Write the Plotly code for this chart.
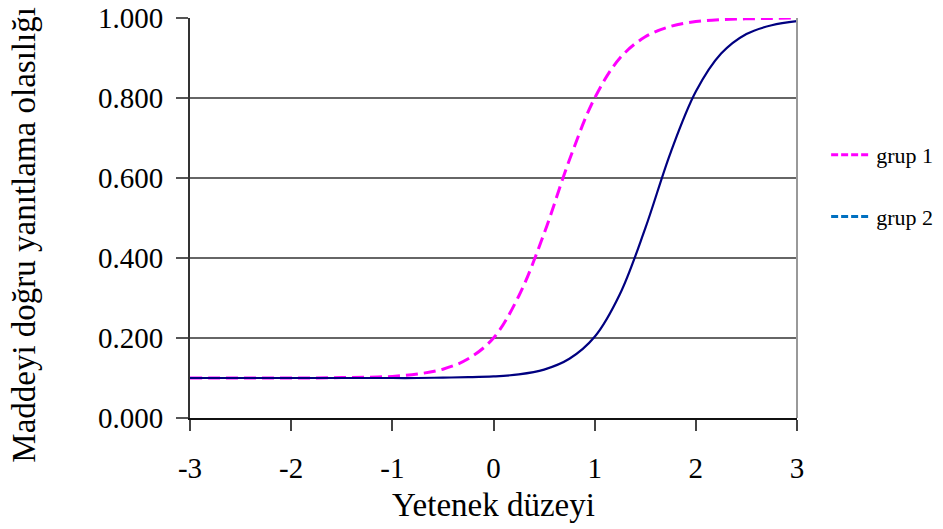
import plotly.graph_objects as go

theta = [-3.0, -2.75, -2.5, -2.25, -2.0, -1.75, -1.5, -1.25, -1.0, -0.75, -0.5, -0.25,
         0.0, 0.25, 0.5, 0.75, 1.0, 1.25, 1.5, 1.75, 2.0, 2.25, 2.5, 2.75, 3.0]
grup1 = [0.100, 0.100, 0.100, 0.100, 0.100, 0.100, 0.101, 0.102, 0.104, 0.110, 0.122, 0.148,
         0.200, 0.305, 0.461, 0.645, 0.800, 0.900, 0.953, 0.979, 0.991, 0.996, 0.998, 0.999, 1.000]
grup2 = [0.100, 0.100, 0.100, 0.100, 0.100, 0.100, 0.100, 0.100, 0.100, 0.100, 0.101, 0.102,
         0.104, 0.109, 0.121, 0.148, 0.203, 0.310, 0.474, 0.663, 0.816, 0.911, 0.960, 0.982, 0.992]
series_names = ["grup 1", "grup 2"]
y_ticks = [0.0, 0.2, 0.4, 0.6, 0.8, 1.0]
x_ticks = [-3, -2, -1, 0, 1, 2, 3]
x_title = "Yetenek düzeyi"
y_title = "Maddeyi doğru yanıtlama olasılığı"

FONT = "Liberation Serif, Times New Roman, serif"

fig = go.Figure()
fig.add_trace(go.Scatter(x=theta, y=grup1, mode="lines", line=dict(color="#FF00FF", width=3, dash="12px,6px", shape="spline"),
                         showlegend=False, hoverinfo="skip"))
fig.add_trace(go.Scatter(x=theta, y=grup2, mode="lines", line=dict(color="#000080", width=2.2, shape="spline"),
                         showlegend=False, hoverinfo="skip"))
# legend entries
fig.add_trace(go.Scatter(x=[None], y=[None], mode="lines", name=series_names[0], legendgroup="a",
                         line=dict(color="#FF00FF", width=3, dash="7px,3px")))
fig.add_trace(go.Scatter(x=[None], y=[None], mode="lines", name=series_names[1], legendgroup="b",
                         line=dict(color="#0070C0", width=3, dash="7px,3px")))

fig.update_layout(
    width=943, height=529,
    margin=dict(l=190, r=146, t=18, b=111, autoexpand=False),
    paper_bgcolor="white", plot_bgcolor="white",
    font=dict(family=FONT, color="black"),
    legend=dict(x=1.048, y=0.71, xanchor="left", yanchor="top", font=dict(size=22, family=FONT),
                tracegroupgap=30, bgcolor="rgba(0,0,0,0)", itemwidth=40),
    shapes=[dict(type="line", xref="paper", yref="paper", x0=1, x1=1, y0=0, y1=1,
                 line=dict(color="#999999", width=2))],
    annotations=[dict(text=y_title, xref="paper", yref="paper", x=-0.274, y=0.4575,
                      xanchor="center", yanchor="middle", textangle=-90, showarrow=False,
                      font=dict(size=33, family=FONT, color="black"))],
)
fig.update_xaxes(range=[-3, 3], tickvals=x_ticks, ticktext=[str(v) for v in x_ticks],
                 showgrid=False, zeroline=False, showline=True, linecolor="#111111", linewidth=2,
                 ticks="outside", ticklen=11, tickwidth=2, tickcolor="#444444",
                 tickfont=dict(size=29, family=FONT), ticklabelstandoff=12, automargin=False,
                 title=dict(text=x_title, font=dict(size=33, family=FONT), standoff=10))
fig.update_yaxes(range=[0, 1], tickvals=y_ticks, tickformat=".3f",
                 showgrid=True, gridcolor="#666666", gridwidth=2, zeroline=False,
                 showline=True, linecolor="#333333", linewidth=2,
                 ticks="outside", ticklen=12, tickwidth=2, tickcolor="#555555",
                 tickfont=dict(size=29, family=FONT), ticklabelstandoff=7, automargin=False)

fig.write_html("out.html", config={"displayModeBar": False},
               post_script="document.body.style.margin='0';")
